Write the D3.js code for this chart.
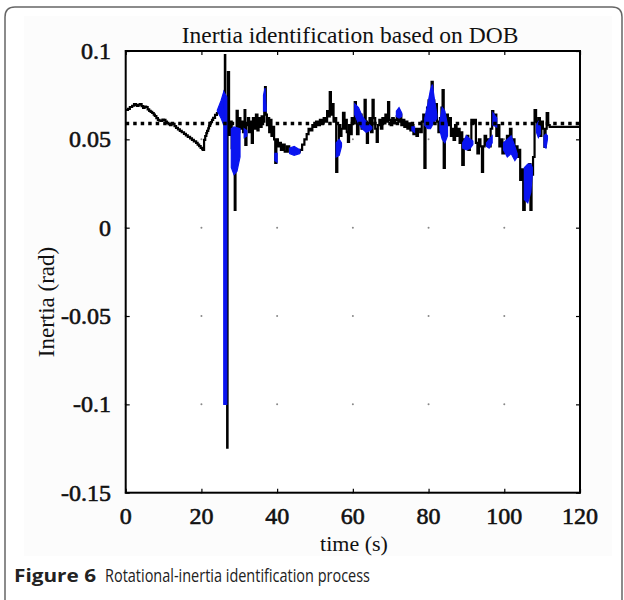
<!DOCTYPE html>
<html><head><meta charset="utf-8">
<script src="https://cdn.jsdelivr.net/npm/d3@7"></script>
<style>html,body{margin:0;padding:0;background:#fff;}svg{display:block;}</style>
</head><body>
<svg id="chart" width="624" height="600"></svg>
<script>
// ---------------- data ----------------
const titleText = "Inertia identification based on DOB";
const xLabel = "time (s)";
const yLabel = "Inertia (rad)";
const captionBold = "Figure 6";
const captionText = "Rotational-inertia identification process";
const xTicks = [0, 20, 40, 60, 80, 100, 120];
const xTickLabels = ["0", "20", "40", "60", "80", "100", "120"];
const yTicks = [-0.15, -0.1, -0.05, 0, 0.05, 0.1];
const yTickLabels = ["-0.15", "-0.1", "-0.05", "0", "0.05", "0.1"];
const refLevel = 0.059;   // dotted reference (true inertia)

// black trace: [time, value]
const blackSeries = [
 [0.0,.0666],[0.6,.0672],[1.1,.0683],[1.7,.0690],[2.2,.0700],[2.7,.0694],[3.0,.0689],[3.4,.0697],[3.8,.0700],[4.2,.0688],[4.6,.0678],[5.0,.0686],[5.4,.0683],[5.8,.0670],[6.2,.0661],
 [6.6,.0655],[7.0,.0649],[7.4,.0640],[7.7,.0632],[8.1,.0620],[8.5,.0610],[8.9,.0606],[9.3,.0604],[9.7,.0612],[10.1,.0610],[10.5,.0600],[10.9,.0593],[11.3,.0586],[11.7,.0581],[12.1,.0590],[12.5,.0587],
 [12.9,.0575],[13.3,.0565],[13.8,.0556],[14.3,.0548],[14.8,.0540],[15.4,.0531],[15.9,.0522],[16.4,.0514],[17.0,.0505],[17.5,.0497],[18.0,.0488],[18.6,.0480],[19.0,.0470],[19.4,.0462],[19.8,.0452],[20.2,.0445],
 [20.4,.0440],[20.7,.0497],[21.0,.0519],[21.3,.0535],[21.5,.0548],[21.8,.0562],[22.0,.0576],[22.3,.0590],[22.5,.0598],[22.8,.0610],[23.1,.0621],[23.6,.0638],
 [24.1,.0649],[24.6,.0666],[25.2,.0678],[25.7,.0700],[26.0,.0723],[26.2,.0977],[26.3,.0270],[26.5,.0550],
 [26.8,-.1245],[26.9,.0600],[27.0,.0881],[27.3,.0525],[27.6,.0600],[28.0,.0450],[28.4,.0550],[28.8,.0101],
 [29.0,.0500],[29.3,.0661],[29.6,.0540],[30.0,.0620],[30.3,.0560],[30.7,.0600],[31.0,.0540],[31.4,.0666],[31.6,.0468],
 [31.9,.0580],[32.3,.0620],[32.6,.0540],[33.0,.0600],[33.3,.0480],[33.6,.0620],[34.0,.0560],[34.4,.0640],[34.8,.0550],
 [35.1,.0620],[35.5,.0570],[35.9,.0630],[36.3,.0600],[36.6,.0660],[36.8,.0796],[37.0,.0640],[37.3,.0580],[37.6,.0620],
 [37.9,.0540],[38.2,.0610],[38.5,.0520],[38.9,.0570],[39.2,.0500],[39.5,.0367],[39.8,.0500],[40.2,.0460],[40.6,.0480],
 [41.0,.0440],[41.5,.0470],[42.0,.0430],[42.6,.0460],[43.2,.0430],[44.0,.0440],[45.0,.0430],[46.0,.0440],
 [46.6,.0470],[47.2,.0500],[47.8,.0530],[48.3,.0560],[48.8,.0550],[49.3,.0580],[49.8,.0570],[50.3,.0600],[50.8,.0580],
 [51.3,.0610],[51.8,.0590],[52.3,.0620],[52.8,.0600],[53.2,.0660],[53.6,.0630],[53.9,.0768],[54.2,.0640],[54.6,.0700],
 [54.9,.0600],[55.3,.0620],[55.6,.0316],[55.9,.0460],[56.3,.0580],[56.7,.0520],[57.0,.0560],[57.4,.0650],[57.8,.0560],
 [58.1,.0610],[58.4,.0540],[58.7,.0485],[59.0,.0580],[59.4,.0530],[59.7,.0620],[60.1,.0590],[60.5,.0711],[60.8,.0620],
 [61.1,.0530],[61.5,.0600],[61.9,.0640],[62.3,.0560],[62.7,.0600],[63.1,.0723],[63.4,.0600],[63.7,.0480],[64.0,.0580],
 [64.4,.0620],[64.8,.0540],[65.2,.0723],[65.5,.0620],[65.9,.0560],[66.3,.0485],[66.6,.0580],[67.0,.0610],[67.4,.0560],
 [67.8,.0620],[68.2,.0590],[68.6,.0640],[69.0,.0600],[69.3,.0711],[69.6,.0610],[70.0,.0580],[70.4,.0620],[70.8,.0590],
 [71.2,.0610],[71.6,.0630],[72.0,.0600],[72.4,.0640],[72.8,.0580],[73.2,.0610],[73.6,.0570],[74.0,.0600],[74.4,.0560],
 [74.8,.0590],[75.2,.0550],[75.6,.0580],[76.0,.0530],[76.4,.0560],[76.8,.0520],[77.2,.0560],[77.8,.0540],[78.2,.0600],
 [78.6,.0640],[78.9,.0338],[79.2,.0640],[79.6,.0680],[80.0,.0720],[80.4,.0740],[80.8,.0825],[81.1,.0720],[81.5,.0660],
 [81.9,.0700],[82.2,.0600],[82.6,.0540],[83.0,.0620],[83.4,.0680],[83.7,.0779],[84.0,.0338],[84.3,.0560],[84.7,.0640],
 [85.1,.0580],[85.5,.0620],[85.9,.0520],[86.3,.0560],[86.6,.0497],[87.0,.0580],[87.4,.0520],[87.8,.0560],[88.2,.0480],
 [88.6,.0540],[88.9,.0355],[89.3,.0500],[89.7,.0460],[90.1,.0520],[90.5,.0440],[90.9,.0490],[91.3,.0610],[91.7,.0590],
 [92.1,.0610],[92.5,.0480],[92.9,.0420],[93.3,.0500],[93.7,.0460],[94.1,.0316],[94.4,.0460],[94.8,.0520],[95.2,.0470],
 [95.6,.0500],[96.0,.0460],[96.4,.0560],[96.8,.0660],[97.1,.0600],[97.5,.0640],[97.9,.0520],[98.3,.0580],[98.7,.0460],
 [99.1,.0500],[99.5,.0420],[99.9,.0480],[100.3,.0440],[100.7,.0520],[101.1,.0460],[101.5,.0560],[101.9,.0480],[102.3,.0500],
 [102.7,.0420],[103.1,.0460],[103.5,.0400],[103.9,.0440],[104.2,.0270],[104.6,.0330],[105.0,.0101],[105.4,.0250],
 [105.8,.0340],[106.2,.0300],[106.6,.0360],[106.9,.0101],[107.2,.0300],[107.6,.0400],[108.0,.0666],[108.4,.0600],
 [108.7,.0580],[109.0,.0620],[109.4,.0520],[109.8,.0600],[110.2,.0560],[110.6,.0457],[110.9,.0560],[111.2,.0649],
 [111.6,.0580],[112.0,.0570],[116.0,.0570],[120.0,.0570]
];

// blue filled bands: each band is a list of [time, low, high]
const blueBands = [
 [[24.2,.0660,.0665],[25.2,.0620,.0720],[25.9,.0580,.0770]],
 [[25.9,-.100,.0770],[26.7,-.100,.0740]],
 [[27.9,.0340,.0560],[28.6,.0300,.0570],[29.4,.0320,.0565],[30.2,.0400,.0560]],
 [[31.3,.0510,.0560],[32.0,.0520,.0550]],
 [[36.4,.0660,.0750],[36.8,.0660,.0790],[37.1,.0660,.0680]],
 [[39.4,.0380,.0420],[40.0,.0370,.0420]],
 [[43.3,.0420,.0450],[44.5,.0410,.0460],[46.0,.0420,.0440]],
 [[55.6,.0400,.0480],[56.4,.0410,.0500],[57.0,.0460,.0480]],
 [[60.5,.0640,.0700],[61.5,.0590,.0680],[62.5,.0560,.0630],[63.5,.0540,.0600],[64.5,.0550,.0580],[65.0,.0560,.0570]],
 [[71.5,.0630,.0660],[72.2,.0620,.0680],[72.9,.0630,.0650]],
 [[75.6,.0550,.0570],[76.3,.0540,.0570]],
 [[79.0,.0580,.0620],[79.8,.0560,.0700],[80.5,.0560,.0780],[81.0,.0580,.0810],[81.6,.0600,.0720],[82.2,.0620,.0640]],
 [[83.0,.0550,.0600],[83.6,.0500,.0680],[84.3,.0480,.0660],[85.0,.0520,.0580]],
 [[89.0,.0450,.0480],[90.0,.0440,.0520],[91.0,.0450,.0500],[91.7,.0470,.0490]],
 [[95.3,.0460,.0480],[96.0,.0450,.0500],[96.8,.0480,.0520]],
 [[97.0,.0580,.0650],[98.0,.0570,.0620]],
 [[99.8,.0440,.0480],[100.8,.0400,.0500],[101.8,.0420,.0520],[102.8,.0380,.0460],[103.4,.0400,.0420]],
 [[105.3,.0160,.0340],[106.2,.0140,.0360],[107.0,.0200,.0360],[107.4,.0300,.0340]],
 [[108.5,.0540,.0580],[109.0,.0510,.0600],[109.5,.0530,.0570]],
 [[110.5,.0460,.0520],[111.0,.0450,.0530],[111.4,.0500,.0520]]
];

// ---------------- drawing ----------------
const svg = d3.select("#chart");
const plot = {left: 125.7, right: 580, top: 51, bottom: 492.7};
const x = d3.scaleLinear().domain([0, 120]).range([plot.left, plot.right]);
const y = d3.scaleLinear().domain([-0.15, 0.1]).range([plot.bottom, plot.top]);
const serif = "'Liberation Serif','Times New Roman',serif";

// card frame
svg.append("rect").attr("x", 24).attr("y", 16).attr("width", 588).attr("height", 540).attr("fill", "#fcfcfc");
svg.append("path")
  .attr("d", "M5,600 L5,17 Q5,7 15,7 L612,7 Q622,7 622,17 L622,600")
  .attr("fill", "none").attr("stroke", "#666").attr("stroke-width", 1.5);
svg.append("rect").attr("x", plot.left).attr("y", plot.top)
  .attr("width", plot.right - plot.left).attr("height", plot.bottom - plot.top).attr("fill", "#fff");

// grid intersection dots
const gridPts = [];
xTicks.forEach(tx => yTicks.forEach(ty => gridPts.push([tx, ty])));
svg.append("g").selectAll("circle").data(gridPts).join("circle")
  .attr("cx", d => x(d[0])).attr("cy", d => y(d[1])).attr("r", 1)
  .attr("fill", "#888");

svg.append("clipPath").attr("id", "clip").append("rect")
  .attr("x", plot.left).attr("y", plot.top - 2)
  .attr("width", plot.right - plot.left).attr("height", plot.bottom - plot.top + 2);
const g = svg.append("g").attr("clip-path", "url(#clip)");

// black trace (sample-and-hold)
g.append("path").datum(blackSeries)
  .attr("d", d3.line().curve(d3.curveStepAfter).x(d => x(d[0])).y(d => y(d[1])))
  .attr("fill", "none").attr("stroke", "#000").attr("stroke-width", 2.2);

// blue bands
const area = d3.area().x(d => x(d[0])).y0(d => y(d[1])).y1(d => y(d[2]));
g.append("g").selectAll("path").data(blueBands).join("path")
  .attr("d", area).attr("fill", "#0a14f0").attr("stroke", "#0a14f0").attr("stroke-width", 1.2);

// reference dotted line
g.append("path").datum([[0, refLevel], [120, refLevel]])
  .attr("d", d3.line().x(d => x(d[0])).y(d => y(d[1])))
  .attr("stroke", "#000").attr("stroke-width", 3.5).attr("stroke-dasharray", "3.5,4");

// frame
svg.append("rect").attr("x", plot.left).attr("y", plot.top)
  .attr("width", plot.right - plot.left).attr("height", plot.bottom - plot.top)
  .attr("fill", "none").attr("stroke", "#000").attr("stroke-width", 2);

// ticks (inward) on all four sides
const tl = 4;
svg.append("g").attr("transform", `translate(0,${plot.bottom})`)
  .call(d3.axisBottom(x).tickValues(xTicks).tickSize(-tl).tickFormat(""))
  .call(a => a.select(".domain").remove());
svg.append("g").attr("transform", `translate(0,${plot.top})`)
  .call(d3.axisTop(x).tickValues(xTicks).tickSize(-tl).tickFormat(""))
  .call(a => a.select(".domain").remove());
svg.append("g").attr("transform", `translate(${plot.left},0)`)
  .call(d3.axisLeft(y).tickValues(yTicks).tickSize(-tl).tickFormat(""))
  .call(a => a.select(".domain").remove());
svg.append("g").attr("transform", `translate(${plot.right},0)`)
  .call(d3.axisRight(y).tickValues(yTicks).tickSize(-tl).tickFormat(""))
  .call(a => a.select(".domain").remove());
svg.selectAll(".tick line").attr("stroke", "#000").attr("stroke-width", 1.2);

// tick labels
svg.append("g").selectAll("text").data(xTicks).join("text")
  .attr("x", d => x(d)).attr("y", 524)
  .attr("text-anchor", "middle").attr("font-family", serif).attr("font-size", 24)
  .attr("fill", "#111").attr("stroke", "#111").attr("stroke-width", 0.6)
  .text((d, i) => xTickLabels[i]);
svg.append("g").selectAll("text").data(yTicks).join("text")
  .attr("x", 111).attr("y", d => y(d) + 8)
  .attr("text-anchor", "end").attr("font-family", serif).attr("font-size", 24)
  .attr("fill", "#111").attr("stroke", "#111").attr("stroke-width", 0.6)
  .text((d, i) => yTickLabels[i]);

// titles
svg.append("text").attr("x", 350).attr("y", 43).attr("text-anchor", "middle")
  .attr("font-family", serif).attr("font-size", 23.5).attr("fill", "#111").text(titleText);
svg.append("text").attr("x", 354).attr("y", 551).attr("text-anchor", "middle")
  .attr("font-family", serif).attr("font-size", 22).attr("fill", "#111").text(xLabel);
svg.append("text").attr("transform", "translate(54,302) rotate(-90)").attr("text-anchor", "middle")
  .attr("font-family", serif).attr("font-size", 23).attr("fill", "#111").text(yLabel);

// caption
const capFont = "'Open Sans','Noto Sans',sans-serif";
svg.append("text").attr("x", 14).attr("y", 582).attr("font-family", capFont).attr("font-size", 18)
  .attr("font-weight", "bold").attr("fill", "#222")
  .attr("textLength", 82).attr("lengthAdjust", "spacingAndGlyphs").text(captionBold);
svg.append("text").attr("x", 105).attr("y", 582).attr("font-family", capFont).attr("font-size", 18)
  .attr("fill", "#222")
  .attr("textLength", 265).attr("lengthAdjust", "spacingAndGlyphs").text(captionText);
</script>
</body></html>
